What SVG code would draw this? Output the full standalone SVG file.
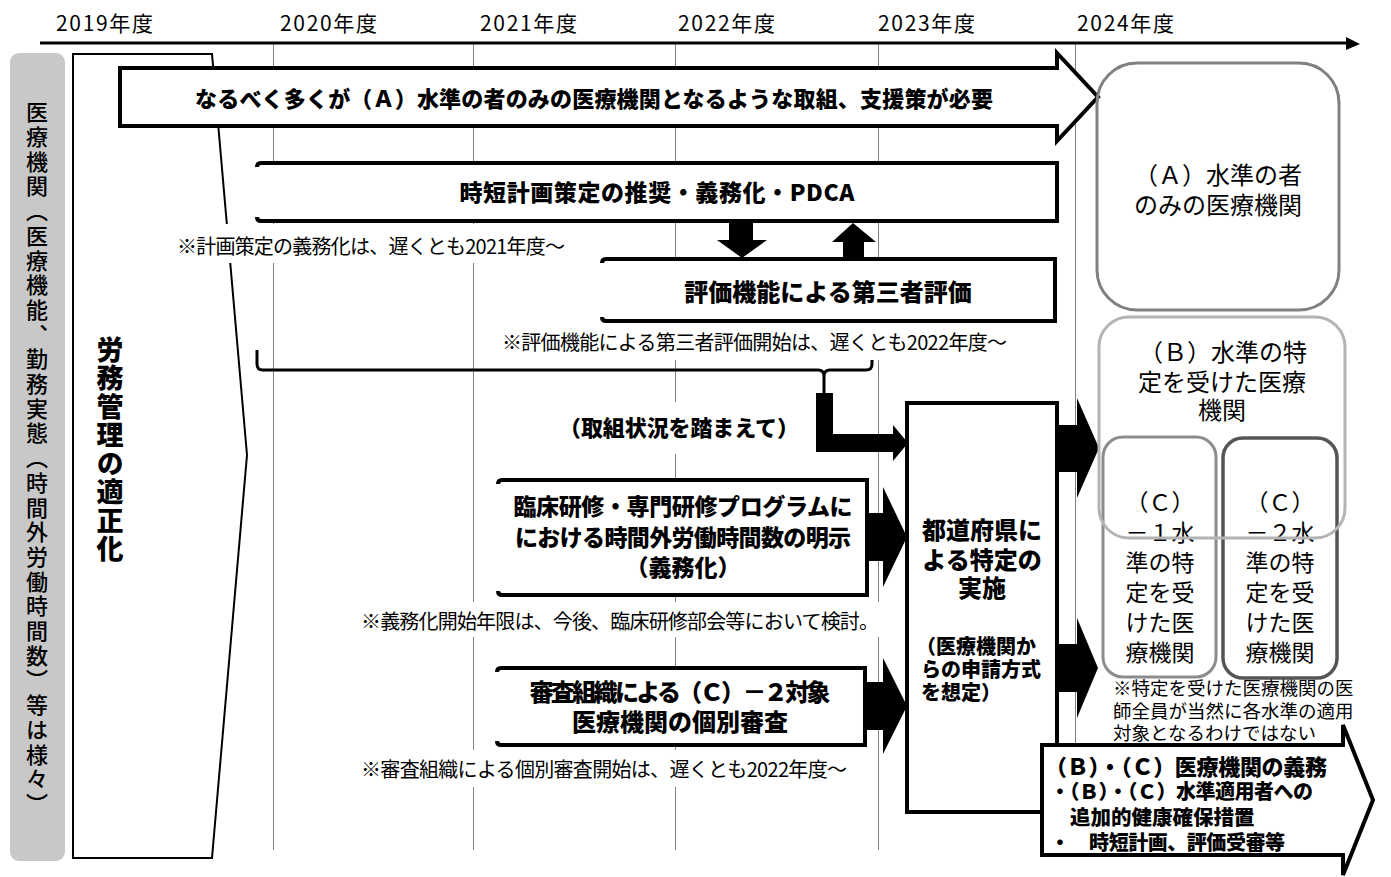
<svg xmlns="http://www.w3.org/2000/svg" width="1391" height="877" viewBox="0 0 1391 877">
<style>
text{font-family:"Noto Sans CJK JP","Noto Sans",sans-serif;fill:#000}
.yr{font-size:21px}
.note{font-size:20px}
.b{font-weight:900}
.grid{stroke:#808080;stroke-width:1}
.box{fill:#fff;stroke:#000;stroke-width:4}
.blk{fill:#000;stroke:none}
.wbg{fill:#fff;stroke:none}
.vt{writing-mode:vertical-rl}
</style>
<rect width="1391" height="877" fill="#fff"/>

<g id="grid">
<line class="grid" x1="273.5" y1="44" x2="273.5" y2="850"/>
<line class="grid" x1="473.5" y1="44" x2="473.5" y2="850"/>
<line class="grid" x1="675.5" y1="44" x2="675.5" y2="850"/>
<line class="grid" x1="878.5" y1="44" x2="878.5" y2="850"/>
<line class="grid" x1="1075.5" y1="44" x2="1075.5" y2="850"/>
</g>

<g id="timeline">
<line x1="40" y1="43" x2="1348" y2="43" stroke="#000" stroke-width="3"/>
<polygon class="blk" points="1346,37 1360,44 1346,50"/>
<text class="yr" x="56" y="31" textLength="97">2019年度</text>
<text class="yr" x="280" y="31" textLength="97">2020年度</text>
<text class="yr" x="480" y="31" textLength="97">2021年度</text>
<text class="yr" x="678" y="31" textLength="97">2022年度</text>
<text class="yr" x="878" y="31" textLength="97">2023年度</text>
<text class="yr" x="1077" y="31" textLength="97">2024年度</text>
</g>

<g id="side-label">
<rect x="10" y="53" width="55" height="808" rx="9" fill="#c8c8c8"/>
<text class="vt" x="37" y="101" font-size="22" font-weight="500" letter-spacing="2.7">医療機関（医療機能、勤務実態（時間外労働時間数）等は様々）</text>
</g>

<g id="labor-mgmt">
<polygon points="73,54 212,54 247,455 212,858 73,858" fill="#fff" stroke="#000" stroke-width="2"/>
<text class="vt b" x="110" y="336" font-size="27" letter-spacing="1.5">労務管理の適正化</text>
</g>

<g id="goal-arrow">
<path class="box" d="M120,68 H1057 V53 L1098,97 L1057,141 V126 H120 Z"/>
<text class="b" x="594" y="107" font-size="22" text-anchor="middle" textLength="798">なるべく多くが（Ａ）水準の者のみの医療機関となるような取組、支援策が必要</text>
</g>

<g id="plan-box">
<path class="box" d="M257,167 Q257,163 261,163 H1057 V221 H261 Q257,221 257,217"/>
<text class="b" x="657" y="201" font-size="23" text-anchor="middle" textLength="395">時短計画策定の推奨・義務化・PDCA</text>
</g>

<g id="eval-box">
<path class="box" d="M602,263 Q602,259 606,259 H1055 V321 H606 Q602,321 602,317"/>
<text class="b" x="828" y="301" font-size="24" text-anchor="middle">評価機能による第三者評価</text>
</g>

<g id="connectors">
<polygon class="blk" points="729,223 753,223 753,240 767,240 742,258 717,240 729,240"/>
<polygon class="blk" points="843,260 864,260 864,242 876,242 853,223 832,242 843,242"/>
<path d="M257,350 V364 Q257,370 263,370 H818 Q824,370 824,376 V394 M824,376 Q824,370 830,370 H866 Q872,370 872,364 V353" fill="none" stroke="#000" stroke-width="3"/>
<polygon class="blk" points="816,393 833,393 833,434 893,434 893,425 908,443 893,461 893,452 816,452"/>
<polygon class="blk" points="865,513 883,513 883,487 907,537 883,587 883,561 865,561"/>
<polygon class="blk" points="865,682 883,682 883,658 907,706 883,754 883,730 865,730"/>
<polygon class="blk" points="1057,425 1077,425 1077,398 1099,448 1077,498 1077,472 1057,472"/>
<polygon class="blk" points="1057,644 1077,644 1077,618 1098,668 1077,718 1077,692 1057,692"/>
</g>

<g id="notes">
<rect class="wbg" x="172" y="224" width="400" height="39"/>
<text class="note" x="177" y="254" textLength="388">※計画策定の義務化は、遅くとも2021年度～</text>
<rect class="wbg" x="497" y="323" width="515" height="37"/>
<text class="note" x="502" y="350" textLength="505">※評価機能による第三者評価開始は、遅くとも2022年度～</text>
<rect class="wbg" x="356" y="602" width="528" height="35"/>
<text class="note" x="361" y="629" textLength="518">※義務化開始年限は、今後、臨床研修部会等において検討。</text>
<rect class="wbg" x="356" y="750" width="497" height="37"/>
<text class="note" x="361" y="777" textLength="486">※審査組織による個別審査開始は、遅くとも2022年度～</text>
</g>

<g id="status-label">
<rect class="wbg" x="553" y="402" width="252" height="52"/>
<text class="b" x="679" y="436" font-size="22" text-anchor="middle" textLength="240">（取組状況を踏まえて）</text>
</g>

<g id="training-box">
<path class="box" d="M498,484 Q498,480 502,480 H867 V595 H502 Q498,595 498,591"/>
<text class="b" x="683" y="515" font-size="23" text-anchor="middle" textLength="339">臨床研修・専門研修プログラムに</text>
<text class="b" x="683" y="546" font-size="23" text-anchor="middle" textLength="336">における時間外労働時間数の明示</text>
<text class="b" x="683" y="576" font-size="23" text-anchor="middle">（義務化）</text>
</g>

<g id="review-box">
<path class="box" d="M497,672 Q497,668 501,668 H865 V745 H501 Q497,745 497,741"/>
<text class="b" x="680" y="701" font-size="24" text-anchor="middle" textLength="301">審査組織による（Ｃ）－２対象</text>
<text class="b" x="680" y="731" font-size="24" text-anchor="middle">医療機関の個別審査</text>
</g>

<g id="prefecture-box">
<rect class="box" x="907" y="403" width="150" height="409"/>
<text class="b" x="982" y="539" font-size="24" text-anchor="middle">都道府県に</text>
<text class="b" x="982" y="569" font-size="24" text-anchor="middle">よる特定の</text>
<text class="b" x="982" y="597" font-size="24" text-anchor="middle">実施</text>
<text class="b" x="916" y="654" font-size="20">（医療機関か</text>
<text class="b" x="921" y="677" font-size="20">らの申請方式</text>
<text class="b" x="921" y="700" font-size="20">を想定）</text>
</g>

<g id="level-a">
<rect x="1097" y="63" width="242" height="247" rx="40" fill="none" stroke="#808080" stroke-width="3"/>
<text x="1218" y="184" font-size="24" text-anchor="middle">（Ａ）水準の者</text>
<text x="1218" y="214" font-size="24" text-anchor="middle">のみの医療機関</text>
</g>

<g id="level-c1">
<rect x="1103" y="437" width="113" height="240" rx="20" fill="none" stroke="#8c8c8c" stroke-width="3"/>
<text x="1160" y="511" font-size="23" text-anchor="middle">（Ｃ）</text>
<text x="1160" y="541" font-size="23" text-anchor="middle">－１水</text>
<text x="1160" y="571" font-size="23" text-anchor="middle">準の特</text>
<text x="1160" y="601" font-size="23" text-anchor="middle">定を受</text>
<text x="1160" y="631" font-size="23" text-anchor="middle">けた医</text>
<text x="1160" y="661" font-size="23" text-anchor="middle">療機関</text>
</g>

<g id="level-c2">
<rect x="1223" y="438" width="114" height="240" rx="20" fill="none" stroke="#555" stroke-width="3.5"/>
<text x="1280" y="511" font-size="23" text-anchor="middle">（Ｃ）</text>
<text x="1280" y="541" font-size="23" text-anchor="middle">－２水</text>
<text x="1280" y="571" font-size="23" text-anchor="middle">準の特</text>
<text x="1280" y="601" font-size="23" text-anchor="middle">定を受</text>
<text x="1280" y="631" font-size="23" text-anchor="middle">けた医</text>
<text x="1280" y="661" font-size="23" text-anchor="middle">療機関</text>
</g>

<g id="level-b">
<rect x="1099" y="317" width="246" height="221" rx="30" fill="none" stroke="#b4b4b4" stroke-width="3"/>
<text x="1223" y="361" font-size="24" text-anchor="middle">（Ｂ）水準の特</text>
<text x="1222" y="391" font-size="24" text-anchor="middle">定を受けた医療</text>
<text x="1222" y="419" font-size="24" text-anchor="middle">機関</text>
</g>

<g id="c-note">
<text x="1113" y="695" font-size="18.5">※特定を受けた医療機関の医</text>
<text x="1113" y="718" font-size="18.5">師全員が当然に各水準の適用</text>
<text x="1113" y="740" font-size="18.5">対象となるわけではない</text>
</g>

<g id="duties-arrow">
<path class="box" d="M1042,745 H1343 V725 L1373,800 L1343,875 V855 H1042 Z"/>
<text class="b" x="1045" y="775" font-size="22" textLength="282">（Ｂ）・（Ｃ）医療機関の義務</text>
<text class="b" x="1050" y="799" font-size="20" textLength="263">・（Ｂ）・（Ｃ）水準適用者への</text>
<text class="b" x="1070" y="825" font-size="20.5">追加的健康確保措置</text>
<text class="b" x="1050" y="850" font-size="20" textLength="235">・　時短計画、評価受審等</text>
</g>
</svg>
